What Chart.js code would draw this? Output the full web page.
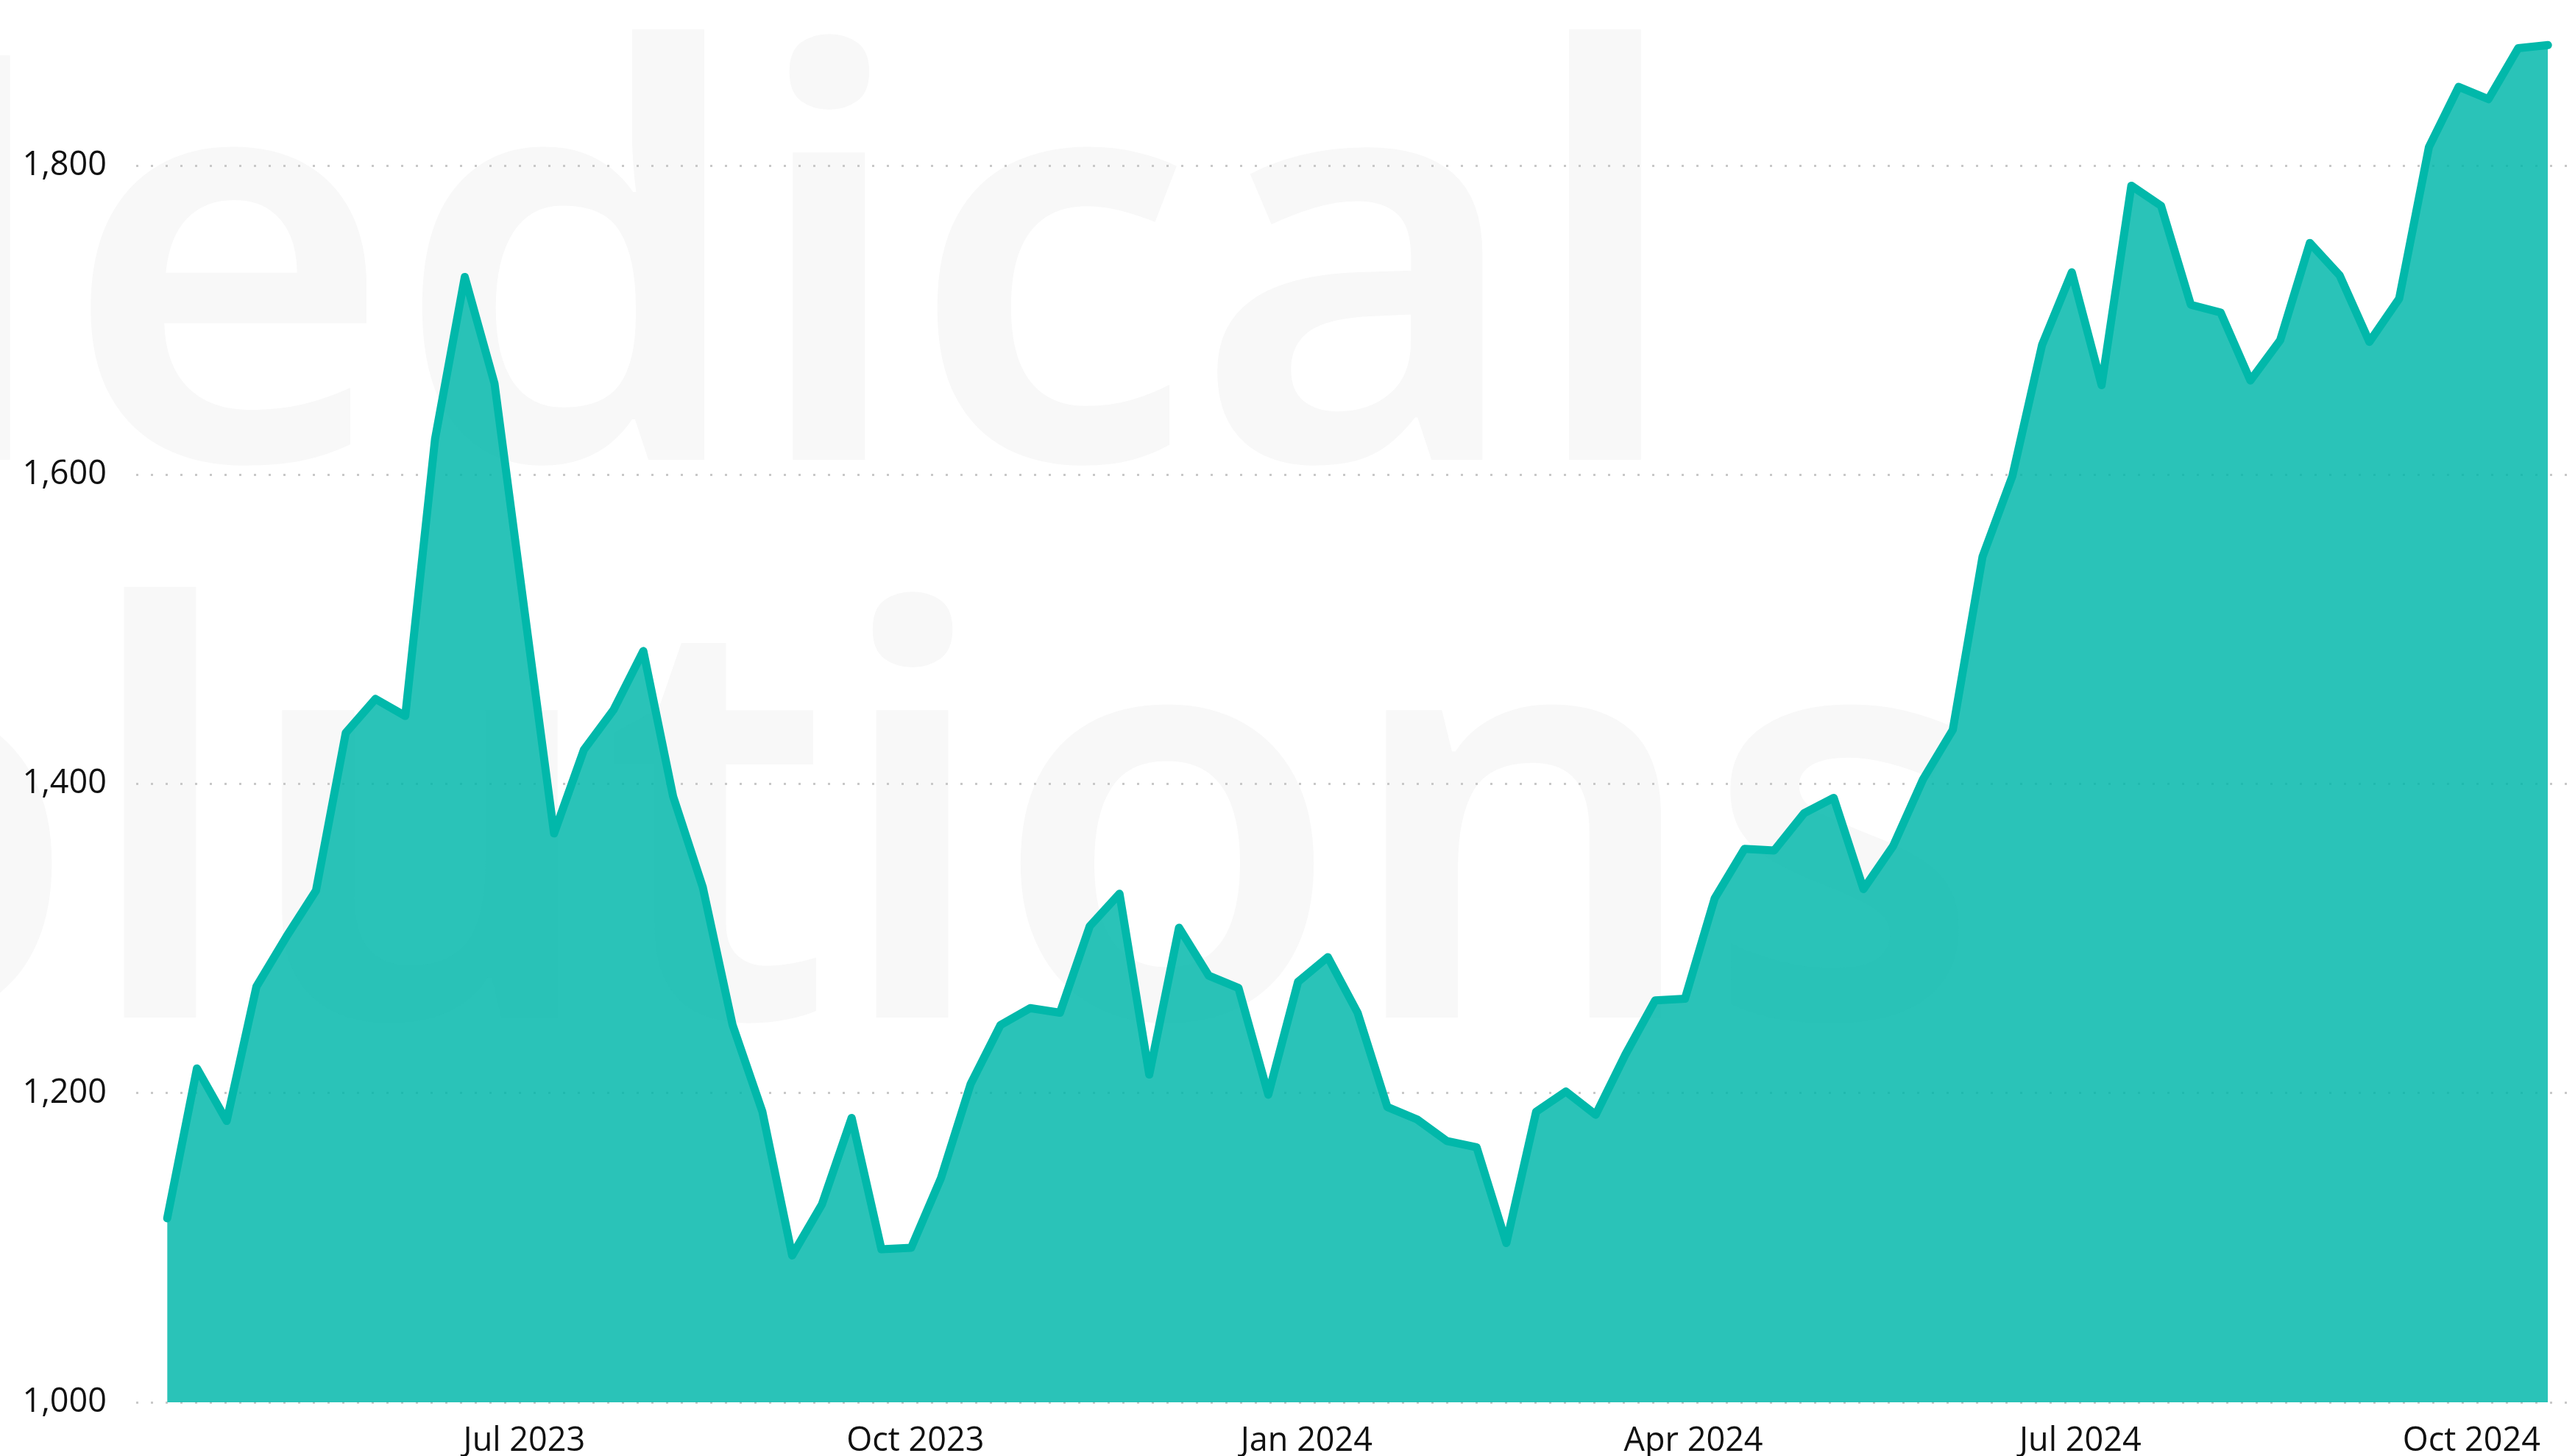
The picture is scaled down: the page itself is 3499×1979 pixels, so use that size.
<!DOCTYPE html>
<html>
<head>
<meta charset="utf-8">
<title>Weekly trend</title>
<script src="https://cdn.jsdelivr.net/npm/chart.js@4.4.1/dist/chart.umd.min.js"></script>
<style>
    html, body { margin: 0; padding: 0; background: #fff; }
    #wrap { position: relative; width: 3499px; height: 1979px; }
</style>
</head>
<body>
<div id="wrap"><canvas id="trend-chart"></canvas></div>
<script>
    // Data
    const firstWeek = '2023-04-08';
    const weekCount = 81;

    const values = [
        1119, 1216, 1182, 1269, 1301, 1331, 1433, 1455, 1444, 1623,
        1728, 1659, 1513, 1368, 1422, 1448, 1486, 1392, 1333, 1244,
        1188, 1095, 1128, 1184, 1099, 1100, 1145, 1206, 1244, 1255,
        1252, 1308, 1329, 1212, 1307, 1276, 1268, 1199, 1272, 1288,
        1252, 1191, 1183, 1169, 1165, 1103, 1188, 1201, 1186, 1225,
        1260, 1261, 1326, 1358, 1357, 1381, 1391, 1332, 1360, 1403,
        1435, 1547, 1599, 1684, 1731, 1658, 1787, 1774, 1710, 1705,
        1661, 1687, 1750, 1729, 1686, 1714, 1812, 1851, 1843, 1876,
        1878
    ];

    const monthTicks = ['2023-07-01', '2023-10-01', '2024-01-01', '2024-04-01', '2024-07-01', '2024-10-01'];
    const monthLabels = ['Jul 2023', 'Oct 2023', 'Jan 2024', 'Apr 2024', 'Jul 2024', 'Oct 2024'];
    const yTicks = [1000, 1200, 1400, 1600, 1800];


    // helpers
    function dayNum(s) {
        var p = s.split('-');
        return Date.UTC(+p[0], +p[1] - 1, +p[2]) / 86400000;
    }

    // weekly categories
    const weeks = [];
    for (var i = 0; i < weekCount; i++) {
        var d = new Date((dayNum(firstWeek) + i * 7) * 86400000);
        weeks.push(d.toISOString().slice(0, 10));
    }

    const points = weeks.map(function (w, i) {
        return { x: dayNum(w), y: values[i] };
    });


    // faint logo in the background
    const watermark = {
        id: 'watermark',
        beforeDraw: function (chart) {
            var c = chart.ctx;
            c.save();
            c.fillStyle = '#f8f8f8';
            c.font = '600 770px "Noto Sans"';
            c.textAlign = 'right';
            c.fillText('Medical', 2290, 625);
            c.textAlign = 'left';
            c.fillText('Solutions', -790, 1383);
            c.restore();
        }
    };


    // Chart
    const ctx = document.getElementById('trend-chart').getContext('2d');
    const trendChart = new Chart(ctx, {
        type: 'line',
        data: {
            datasets: [{
                data: points,
                borderColor: '#01B8AA',
                backgroundColor: 'rgba(1, 184, 170, 0.84)',
                borderWidth: 11,
                borderCapStyle: 'round',
                borderJoinStyle: 'round',
                pointRadius: 0,
                tension: 0,
                fill: 'start'
            }]
        },
        options: {
            responsive: true,
            maintainAspectRatio: false,
            animation: false,
            layout: {
                padding: { top: 15, right: 9, left: 0, bottom: 0 }
            },
            plugins: {
                legend: { display: false },
                tooltip: { enabled: false }
            },
            scales: {
                x: {
                    type: 'linear',
                    min: dayNum(firstWeek) - 7.3,
                    max: dayNum(weeks[weeks.length - 1]) + 4.8,
                    grid: { display: false },
                    border: { display: false },
                    afterBuildTicks: function (scale) {
                        scale.ticks = monthTicks.map(function (t) {
                            return { value: dayNum(t) };
                        });
                    },
                    afterFit: function (scale) {
                        scale.height = 73;
                        scale.paddingLeft = 0;
                        scale.paddingRight = 0;
                    },
                    ticks: {
                        autoSkip: false,
                        maxRotation: 0,
                        padding: 18,
                        color: '#111',
                        font: { family: '"Open Sans"', size: 45 },
                        callback: function (v) {
                            var k = monthTicks.findIndex(function (t) { return dayNum(t) === v; });
                            return k >= 0 ? monthLabels[k] : '';
                        }
                    }
                },
                y: {
                    min: 1000,
                    max: 1900,
                    afterBuildTicks: function (scale) {
                        scale.ticks = yTicks.map(function (v) {
                            return { value: v };
                        });
                    },
                    afterFit: function (scale) {
                        scale.width = 185;
                        scale.paddingTop = 0;
                        scale.paddingBottom = 0;
                    },
                    grid: {
                        color: '#c8c8c8',
                        lineWidth: 3,
                        drawTicks: false
                    },
                    border: { display: false, dash: [3, 17] },
                    ticks: {
                        padding: 40,
                        color: '#111',
                        font: { family: '"Open Sans"', size: 45 },
                        callback: function (v) {
                            return v.toLocaleString('en-US');
                        }
                    }
                }
            }
        },
        plugins: [watermark]
    });
</script>
</body>
</html>
